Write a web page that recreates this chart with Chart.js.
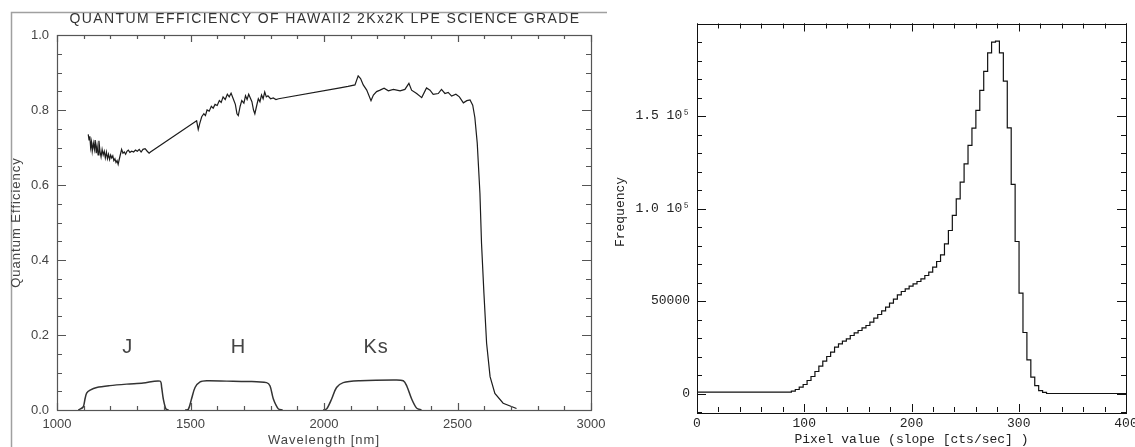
<!DOCTYPE html>
<html><head><meta charset="utf-8">
<script src="https://cdn.jsdelivr.net/npm/chart.js@4.4.1/dist/chart.umd.min.js"></script>
<style>
html,body{margin:0;padding:0;background:#fff;width:1135px;height:447px;overflow:hidden;}
#cl{position:absolute;left:0;top:0;}
#cr{position:absolute;left:610px;top:0;}
</style></head>
<body>
<canvas id="cl" width="610" height="447"></canvas>
<canvas id="cr" width="525" height="447"></canvas>
<script>
// ---------- Left chart data: quantum efficiency vs wavelength ----------
const qeWavelength = [1117,1120,1123,1126,1129,1132,1136,1140,1143,1147,1150,1154,1157,1161,1165,1169,1173,1177,1181,1185,1189,1193,1197,1201,1205,1209,1213,1217,1221,1225,1229,1233,1237,1242,1247,1252,1257,1262,1267,1273,1280,1287,1294,1301,1308,1315,1322,1330,1338,1345,1350,
1523,1529,1535,1542,1550,1556,1562,1570,1578,1585,1592,1600,1608,1615,1622,1630,1638,1645,1652,1660,1668,1674,1679,1686,1692,1700,1706,1712,1718,1724,1730,1736,1741,1748,1754,1760,1766,1772,1778,1784,1790,1800,1810,1820,1830,
2060,2090,2116,2128,2137,2147,2160,2176,2185,2197,2210,2225,2241,2260,2285,2303,2318,2328,2347,2366,2384,2397,2409,2428,2440,2453,2465,2478,2494,2507,2522,2535,2547,2557,2565,2574,2584,2590,2599,2609,2622,2640,2671,2721];
const qeValue = [0.735,0.72,0.73,0.70,0.715,0.69,0.712,0.695,0.72,0.685,0.705,0.68,0.718,0.69,0.675,0.695,0.68,0.69,0.672,0.688,0.67,0.682,0.668,0.68,0.672,0.678,0.665,0.67,0.66,0.665,0.655,0.668,0.68,0.695,0.685,0.688,0.682,0.69,0.693,0.687,0.69,0.688,0.693,0.69,0.695,0.688,0.695,0.697,0.69,0.685,0.688,
0.771,0.748,0.765,0.782,0.790,0.785,0.800,0.797,0.810,0.805,0.815,0.812,0.825,0.820,0.835,0.828,0.842,0.835,0.845,0.830,0.815,0.790,0.785,0.810,0.825,0.818,0.838,0.828,0.842,0.832,0.822,0.800,0.790,0.812,0.830,0.822,0.840,0.830,0.848,0.835,0.838,0.830,0.832,0.828,0.830,
0.859,0.863,0.867,0.891,0.884,0.867,0.853,0.825,0.840,0.849,0.853,0.858,0.851,0.855,0.851,0.855,0.871,0.853,0.844,0.833,0.859,0.853,0.842,0.844,0.855,0.844,0.847,0.837,0.842,0.835,0.819,0.825,0.827,0.813,0.780,0.711,0.578,0.444,0.311,0.178,0.089,0.044,0.018,0.004];

// filter transmission curves
const jWavelength  = [1080,1098,1105,1111,1124,1149,1198,1261,1323,1386,1392,1398,1408,1418];
const jTrans       = [0,0.008,0.03,0.045,0.053,0.06,0.065,0.069,0.072,0.077,0.06,0.03,0.003,0];
const hWavelength  = [1480,1492,1504,1517,1536,1561,1636,1711,1785,1798,1810,1829,1845];
const hTrans       = [0,0.002,0.03,0.06,0.075,0.078,0.077,0.076,0.073,0.064,0.03,0.003,0];
const ksWavelength = [1997,2010,2029,2047,2072,2135,2260,2297,2310,2328,2347,2365];
const ksTrans      = [0,0.003,0.03,0.06,0.073,0.078,0.08,0.078,0.064,0.03,0.005,0];
const filterNames  = ['J','H','Ks'];
const filterLabelWavelength = [1265, 1680, 2195];
const filterLabelQE = 0.168;

const leftTitle = 'QUANTUM EFFICIENCY OF HAWAII2 2Kx2K LPE SCIENCE GRADE';
const leftXTitle = 'Wavelength [nm]';
const leftYTitle = 'Quantum Efficiency';
const wlTicks = [1000,1500,2000,2500,3000];
const wlTickLabels = ['1000','1500','2000','2500','3000'];
const qeTicks = [0,0.2,0.4,0.6,0.8,1.0];
const qeTickLabels = ['0.0','0.2','0.4','0.6','0.8','1.0'];

// ---------- Right chart data: histogram of pixel values ----------
const histBinStart = 88;     // left edge of first non-empty bin (cts/sec)
const histBinWidth = 3.66;   // bin width (cts/sec)
const histCounts = [720,1260,2160,3420,4870,7030,9190,11890,14780,17480,20000,22340,25050,26850,28290,29550,31350,32800,34060,35500,36760,38560,40730,42710,44690,46670,48830,51000,53340,55140,56580,58020,59290,60550,61990,63790,65590,68300,71360,74960,80910,88120,96230,105240,114250,124160,134070,143440,152990,163800,174070,184160,189930,190470,184160,168850,143620,112990,82170,54240,32980,18200,8830,4300,1600,600];
const pixTicks = [0,100,200,300,400];
const pixTickLabels = ['0','100','200','300','400'];
const freqTicks = [0,50000,100000,150000];
const freqTickLabels = ['0','50000','1.0 10\u2075','1.5 10\u2075'];
const rightXTitle = 'Pixel value (slope [cts/sec] )';
const rightYTitle = 'Frequency';

// ---------- helpers ----------
function pts(xs, ys){ return xs.map((x,i)=>({x:x, y:ys[i]})); }
function histPoints(){
  const p=[{x:0,y:0}];
  histCounts.forEach((c,i)=>p.push({x:histBinStart+i*histBinWidth,y:c}));
  p.push({x:histBinStart+histCounts.length*histBinWidth,y:0});
  p.push({x:400,y:0});
  return p;
}
function range(a,b,s){const r=[];for(let v=a;v<=b+1e-9;v+=s)r.push(+v.toFixed(6));return r;}
function labelFor(vals, labels){ return (v)=>{const i=vals.findIndex(t=>Math.abs(t-v)<1e-6); return i<0?'':labels[i];}; }
function noPad(s){ s.paddingLeft=0; s.paddingRight=0; s.paddingTop=0; s.paddingBottom=0; }

function drawBoxTicks(chart, cfg){
  const {ctx, chartArea:a} = chart;
  const xs = chart.scales.x, ys = chart.scales.y;
  ctx.save();
  ctx.strokeStyle = cfg.color; ctx.lineWidth = cfg.lw;
  ctx.strokeRect(Math.round(a.left)+0.5, Math.round(a.top)+0.5, Math.round(a.right-a.left), Math.round(a.bottom-a.top));
  ctx.beginPath();
  const tick=(vals,len,horiz)=>{
    vals.forEach(v=>{
      if(horiz){
        const px = Math.round(xs.getPixelForValue(v))+0.5;
        ctx.moveTo(px,a.bottom); ctx.lineTo(px,a.bottom-len);
        ctx.moveTo(px,a.top); ctx.lineTo(px,a.top+len);
      } else {
        const py = Math.round(ys.getPixelForValue(v))+0.5;
        ctx.moveTo(a.left,py); ctx.lineTo(a.left+len,py);
        ctx.moveTo(a.right,py); ctx.lineTo(a.right-len,py);
      }
    });
  };
  tick(cfg.xMinor, cfg.xMinorLen, true);
  tick(cfg.xMajor, cfg.xMajorLen, true);
  tick(cfg.yMinor, cfg.yMinorLen, false);
  tick(cfg.yMajor, cfg.yMajorLen, false);
  ctx.stroke();
  ctx.restore();
}

// ---------- Left chart ----------
const leftFont = "'Liberation Sans', Arial, sans-serif";
const leftGray = '#444';
const leftPlugin = {
  id:'leftDeco',
  beforeDraw(chart){
    const ctx=chart.ctx;
    ctx.save();
    ctx.strokeStyle='#a0a0a0'; ctx.lineWidth=1.5;
    ctx.beginPath();
    ctx.moveTo(11.5,447); ctx.lineTo(11.5,12.5); ctx.lineTo(607,12.5);
    ctx.stroke();
    ctx.restore();
  },
  afterDatasetsDraw(chart){
    drawBoxTicks(chart,{color:'#555',lw:1.2,
      xMajor:wlTicks, xMajorLen:7, xMinor:range(1000,3000,100), xMinorLen:4,
      yMajor:qeTicks, yMajorLen:9, yMinor:range(0,1,0.05), yMinorLen:5});
    const ctx=chart.ctx, xs=chart.scales.x, ys=chart.scales.y, a=chart.chartArea;
    ctx.save();
    ctx.fillStyle=leftGray; ctx.textAlign='center'; ctx.textBaseline='middle';
    // filter band labels
    ctx.font="20px "+leftFont; ctx.letterSpacing='1px';
    filterNames.forEach((n,i)=>ctx.fillText(n, xs.getPixelForValue(filterLabelWavelength[i]), ys.getPixelForValue(filterLabelQE)));
    // title
    ctx.fillStyle='#333';
    ctx.font="14px "+leftFont; ctx.letterSpacing='1.4px';
    ctx.fillText(leftTitle, (a.left+a.right)/2+1, 19);
    // axis titles
    ctx.fillStyle=leftGray;
    ctx.font="13px "+leftFont; ctx.letterSpacing='1px';
    ctx.fillText(leftXTitle, (a.left+a.right)/2, 440);
    ctx.translate(16,(a.top+a.bottom)/2);
    ctx.rotate(-Math.PI/2);
    ctx.fillText(leftYTitle, 0, 0);
    ctx.restore();
  }
};
new Chart(document.getElementById('cl'),{
  type:'line',
  data:{datasets:[
    {label:'QE', data:pts(qeWavelength,qeValue), borderColor:'#1c1c1c', borderWidth:1.2, pointRadius:0, tension:0, fill:false},
    {label:'J', data:pts(jWavelength,jTrans), borderColor:'#333', borderWidth:1.5, pointRadius:0, tension:0.3, fill:false},
    {label:'H', data:pts(hWavelength,hTrans), borderColor:'#333', borderWidth:1.5, pointRadius:0, tension:0.3, fill:false},
    {label:'Ks', data:pts(ksWavelength,ksTrans), borderColor:'#333', borderWidth:1.5, pointRadius:0, tension:0.3, fill:false}
  ]},
  options:{
    responsive:false, animation:false, devicePixelRatio:1,
    layout:{padding:{left:0,right:19,top:35,bottom:0}},
    plugins:{legend:{display:false}, tooltip:{enabled:false}, title:{display:false}},
    scales:{
      x:{type:'linear', min:1000, max:3000,
        afterBuildTicks:s=>{s.ticks=wlTicks.map(v=>({value:v}));},
        ticks:{font:{family:leftFont,size:13}, color:leftGray, padding:7, maxRotation:0, autoSkip:false, callback:labelFor(wlTicks,wlTickLabels)},
        grid:{display:false, drawTicks:false}, border:{display:false},
        afterFit:s=>{s.height=37; noPad(s);}},
      y:{type:'linear', min:0, max:1,
        afterBuildTicks:s=>{s.ticks=qeTicks.map(v=>({value:v}));},
        ticks:{font:{family:leftFont,size:13}, color:leftGray, padding:8, callback:labelFor(qeTicks,qeTickLabels)},
        grid:{display:false, drawTicks:false}, border:{display:false},
        afterFit:s=>{s.width=57; noPad(s);}}
    }
  },
  plugins:[leftPlugin]
});

// ---------- Right chart ----------
const monoFont = "'Liberation Mono', 'DejaVu Sans Mono', monospace";
const rightPlugin = {
  id:'rightDeco',
  afterDatasetsDraw(chart){
    drawBoxTicks(chart,{color:'#111',lw:1,
      xMajor:pixTicks, xMajorLen:8, xMinor:range(0,400,20), xMinorLen:5,
      yMajor:freqTicks, yMajorLen:9, yMinor:range(-10000,200000,10000), yMinorLen:5});
    const ctx=chart.ctx;
    ctx.save();
    ctx.fillStyle='#222'; ctx.font="13px "+monoFont;
    ctx.textAlign='center'; ctx.textBaseline='middle';
    ctx.translate(11,212); ctx.rotate(-Math.PI/2);
    ctx.fillText(rightYTitle,0,0);
    ctx.restore();
  }
};
new Chart(document.getElementById('cr'),{
  type:'line',
  data:{datasets:[
    {label:'Frequency', data:histPoints(), stepped:'after', borderColor:'#111', borderWidth:1.2, pointRadius:0, fill:false}
  ]},
  options:{
    responsive:false, animation:false, devicePixelRatio:1,
    layout:{padding:{left:0,right:9,top:23.5,bottom:0}},
    plugins:{legend:{display:false}, tooltip:{enabled:false}},
    scales:{
      x:{type:'linear', min:0, max:400,
        afterBuildTicks:s=>{s.ticks=pixTicks.map(v=>({value:v}));},
        ticks:{font:{family:monoFont,size:13}, color:'#222', padding:4, maxRotation:0, autoSkip:false, callback:labelFor(pixTicks,pixTickLabels)},
        grid:{display:false, drawTicks:false}, border:{display:false},
        title:{display:true, text:rightXTitle, font:{family:monoFont,size:13}, color:'#222', padding:{top:0,bottom:0}},
        afterFit:s=>{s.height=35; noPad(s);}},
      y:{type:'linear', min:-10000, max:200000,
        afterBuildTicks:s=>{s.ticks=freqTicks.map(v=>({value:v}));},
        ticks:{font:{family:monoFont,size:13}, color:'#222', padding:7, callback:labelFor(freqTicks,freqTickLabels)},
        grid:{display:false, drawTicks:false}, border:{display:false},
        afterFit:s=>{s.width=87; noPad(s);}}
    }
  },
  plugins:[rightPlugin]
});
</script>
</body></html>
